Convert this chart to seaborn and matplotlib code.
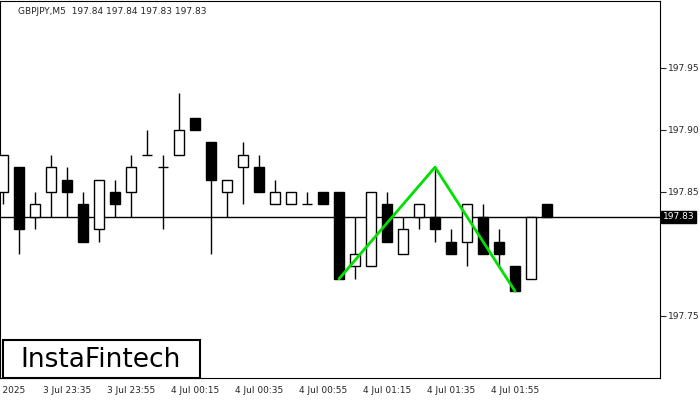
import matplotlib
matplotlib.use("Agg")
import matplotlib.pyplot as plt
import seaborn as sns
import pandas as pd
from matplotlib.patches import Rectangle

opens  = [197.85,197.87,197.83,197.85,197.86,197.84,197.82,197.85,197.85,197.88,197.87,197.88,197.91,197.89,197.85,197.87,197.87,197.84,197.84,197.84,197.85,
          197.85,197.79,197.79,197.84,197.80,197.83,197.83,197.81,197.81,197.83,197.81,197.79,197.78,197.84]
highs  = [197.88,197.87,197.85,197.88,197.87,197.85,197.86,197.86,197.88,197.90,197.88,197.93,197.91,197.89,197.86,197.89,197.88,197.86,197.85,197.85,197.85,
          197.85,197.83,197.85,197.85,197.83,197.84,197.87,197.82,197.84,197.84,197.82,197.79,197.83,197.84]
lows   = [197.84,197.80,197.82,197.83,197.83,197.81,197.81,197.83,197.83,197.88,197.82,197.88,197.90,197.80,197.83,197.84,197.85,197.84,197.84,197.84,197.84,
          197.78,197.78,197.79,197.81,197.80,197.82,197.81,197.80,197.79,197.80,197.79,197.77,197.78,197.83]
closes = [197.88,197.82,197.84,197.87,197.85,197.81,197.86,197.84,197.87,197.88,197.87,197.90,197.90,197.86,197.86,197.88,197.85,197.85,197.85,197.84,197.84,
          197.78,197.80,197.85,197.81,197.82,197.84,197.82,197.80,197.84,197.80,197.80,197.77,197.83,197.83]
tick_labels = ["3 Jul 2025","3 Jul 23:35","3 Jul 23:55","4 Jul 00:15","4 Jul 00:35","4 Jul 00:55","4 Jul 01:15","4 Jul 01:35","4 Jul 01:55"]
tick_idx = [0,4,8,12,16,20,24,28,32]
pattern_idx = [21,27,32]
pattern_price = [197.78,197.87,197.77]
y_ticks = [197.75,197.85,197.90,197.95]
current = 197.83

df = pd.DataFrame({"o":opens,"h":highs,"l":lows,"c":closes})
df["i"] = range(len(df))

sns.set_style("white")
fig = plt.figure(figsize=(7,4), dpi=100)
ax = fig.add_axes([0.0, 22/400, 660/700, 377/400])
w = 10/16
ax.vlines(df["i"], df["l"], df["h"], color="black", lw=1, zorder=2)
for r in df.itertuples():
    lo, hi = min(r.o, r.c), max(r.o, r.c)
    fc = "white" if r.c > r.o else "black"
    if hi - lo < 1e-9:
        ax.hlines(r.o, r.i - w/2, r.i + w/2, color="black", lw=1, zorder=3)
    else:
        ax.add_patch(Rectangle((r.i - w/2, lo), w, hi - lo, facecolor=fc, edgecolor="black", lw=1, zorder=3))
ax.axhline(current, color="black", lw=1, zorder=1)
sns.lineplot(x=pattern_idx, y=pattern_price, color="#00e000", lw=2, ax=ax, zorder=4)

ax.set_xlim(-0.1875, 41.06)
ax.set_ylim(197.700, 198.004)
ax.yaxis.tick_right()
ax.set_yticks(y_ticks)
ax.set_yticklabels([f"{v:.2f}" for v in y_ticks], fontsize=6.5)
ax.set_xticks(tick_idx)
ax.set_xticklabels(tick_labels, fontsize=6.5)
ax.tick_params(axis="both", length=4, width=0.8, direction="out", pad=2)
for s in ax.spines.values():
    s.set_color("black"); s.set_linewidth(0.8)
ax.set_xlabel(""); ax.set_ylabel("")
ax.text(1.004, current, f"{current:.2f}", transform=ax.get_yaxis_transform(), fontsize=6.5, color="white",
        va="center", ha="left", bbox=dict(boxstyle="square,pad=0.15", fc="black", ec="black"))
fig.text(18/700, 1 - 11/400, "GBPJPY,M5  197.84 197.84 197.83 197.83", fontsize=6.5, va="center", ha="left")
fig.patches.append(Rectangle((3/700, 1 - 378/400), 197/700, 38/400, transform=fig.transFigure,
                             facecolor="white", edgecolor="black", lw=1.5, zorder=10))
fig.text(101/700, 1 - 360/400, "InstaFintech", fontsize=19, va="center", ha="center", zorder=11, color="black")
fig.savefig("out.png", dpi=100)
